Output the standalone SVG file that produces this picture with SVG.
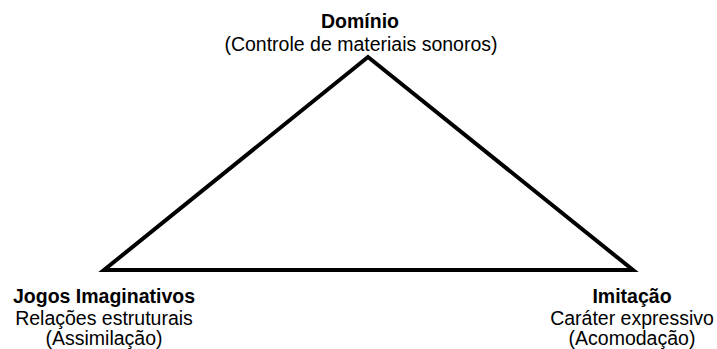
<svg xmlns="http://www.w3.org/2000/svg" width="717" height="349" viewBox="0 0 717 349">
<style>
text{font-family:"Liberation Sans",Arial,sans-serif;font-size:19.5px;fill:#000;text-anchor:middle}
.b{font-weight:bold}
.tri{fill:none;stroke:#000;stroke-width:4;stroke-linejoin:miter}
</style>
<rect width="717" height="349" fill="#fff"/>
<g id="connectors">
<polygon class="tri" points="368,57 104,270 633,270"/>
</g>
<g id="node-dominio">
<text class="b" x="360" y="28">Domínio</text>
<text x="361" y="51">(Controle de materiais sonoros)</text>
</g>
<g id="node-jogos">
<text class="b" x="104" y="303">Jogos Imaginativos</text>
<text x="104" y="324.5">Relações estruturais</text>
<text x="104" y="344.5">(Assimilação)</text>
</g>
<g id="node-imitacao">
<text class="b" x="632" y="303">Imitação</text>
<text x="632" y="324.5">Caráter expressivo</text>
<text x="632" y="344.5">(Acomodação)</text>
</g>
</svg>
